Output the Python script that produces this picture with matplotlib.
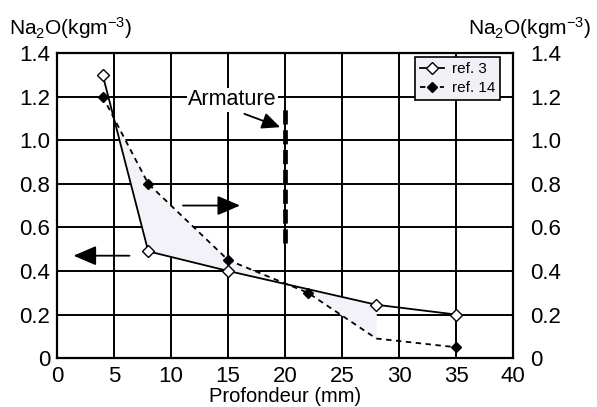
import matplotlib
matplotlib.use("Agg")
import matplotlib.pyplot as plt
import numpy as np

plt.rcParams["font.family"] = ["Liberation Sans", "DejaVu Sans"]
plt.rcParams["mathtext.fontset"] = "custom"
plt.rcParams["mathtext.rm"] = "Liberation Sans"
plt.rcParams["mathtext.it"] = "Liberation Sans"

# data
depth_ref3 = [4, 8, 15, 28, 35]
na2o_ref3 = [1.30, 0.49, 0.40, 0.245, 0.20]

depth_ref14 = [4, 8, 15, 22, 28, 35]
na2o_ref14 = [1.20, 0.80, 0.45, 0.30, 0.09, 0.05]
ref14_marked = [0, 1, 2, 3, 5]

x_ticks = [0, 5, 10, 15, 20, 25, 30, 35, 40]
y_ticks = [0, 0.2, 0.4, 0.6, 0.8, 1.0, 1.2, 1.4]
y_labels = ["0", "0.2", "0.4", "0.6", "0.8", "1.0", "1.2", "1.4"]

armature_x = 20
armature_span = (0.53, 1.16)

fig = plt.figure(figsize=(5.97, 4.07), dpi=100)
ax = fig.add_axes([0.0955, 0.120, 0.764, 0.750])

# faint shading between the two profiles
xs = np.linspace(4.5, 28, 200)
ax.fill_between(xs, np.interp(xs, depth_ref3, na2o_ref3),
                np.interp(xs, depth_ref14, na2o_ref14),
                color="#f3f2f9", linewidth=0, zorder=1)

ax.plot(depth_ref3, na2o_ref3, color="black", linewidth=1.3, marker="D",
        markersize=6.5, markerfacecolor="white", markeredgecolor="black",
        markeredgewidth=1.0, label="ref. 3", zorder=4)
ax.plot(depth_ref14, na2o_ref14, color="black", linewidth=1.3,
        linestyle=(0, (3, 2.5)), marker="D", markersize=5.5,
        markevery=ref14_marked, markerfacecolor="black",
        markeredgecolor="black", label="ref. 14", zorder=4)

# armature
ax.plot([armature_x, armature_x], armature_span, color="black",
        linewidth=3.4, linestyle=(0, (3.0, 1.2)), zorder=3)
ax.annotate("", xy=(19.8, 1.055), xytext=(16.2, 1.125),
            arrowprops=dict(arrowstyle="-|>,head_length=1.1,head_width=0.5",
                            color="black", lw=1.3), zorder=5)
ax.text(15.4, 1.185, "Armature", fontsize=15.5, ha="center", va="center",
        zorder=5, bbox=dict(facecolor="white", edgecolor="none", pad=1))

# direction arrows
ax.annotate("", xy=(1.2, 0.47), xytext=(6.6, 0.47),
            arrowprops=dict(arrowstyle="-|>,head_length=1.4,head_width=0.6",
                            color="black", lw=1.3), zorder=5)
ax.annotate("", xy=(16.3, 0.70), xytext=(10.8, 0.70),
            arrowprops=dict(arrowstyle="-|>,head_length=1.4,head_width=0.6",
                            color="black", lw=1.3), zorder=5)

ax.set_xlim(0, 40)
ax.set_ylim(0, 1.4)
ax.set_xticks(x_ticks)
ax.set_yticks(y_ticks)
ax.set_yticklabels(y_labels)
ax.grid(True, color="black", linewidth=1.4, zorder=0)
ax.set_axisbelow(True)
ax.tick_params(axis="both", length=0, labelsize=16, pad=5)
ax.tick_params(axis="x", pad=6)
for sp in ax.spines.values():
    sp.set_linewidth(1.6)

ax2 = ax.twinx()
ax2.set_ylim(0, 1.4)
ax2.set_yticks(y_ticks)
ax2.set_yticklabels(y_labels)
ax2.tick_params(axis="y", length=0, labelsize=16, pad=12)
for sp in ax2.spines.values():
    sp.set_visible(False)

ax.set_xlabel("Profondeur (mm)", fontsize=14.5, labelpad=0)
fig.text(0.015, 0.93, r"Na$_{2}$O(kgm$^{-3}$)", fontsize=15, ha="left", va="center")
fig.text(0.99, 0.93, r"Na$_{2}$O(kgm$^{-3}$)", fontsize=15, ha="right", va="center")

leg = ax.legend(loc="upper right", bbox_to_anchor=(0.978, 0.995), fontsize=11,
                frameon=True, fancybox=False, edgecolor="black",
                facecolor="#f1f0f6", framealpha=1, handlelength=1.6,
                borderpad=0.3, labelspacing=0.35, handletextpad=0.5,
                borderaxespad=0.2)
leg.get_frame().set_linewidth(1.2)
leg.set_zorder(6)

fig.savefig("out.png", dpi=100)
